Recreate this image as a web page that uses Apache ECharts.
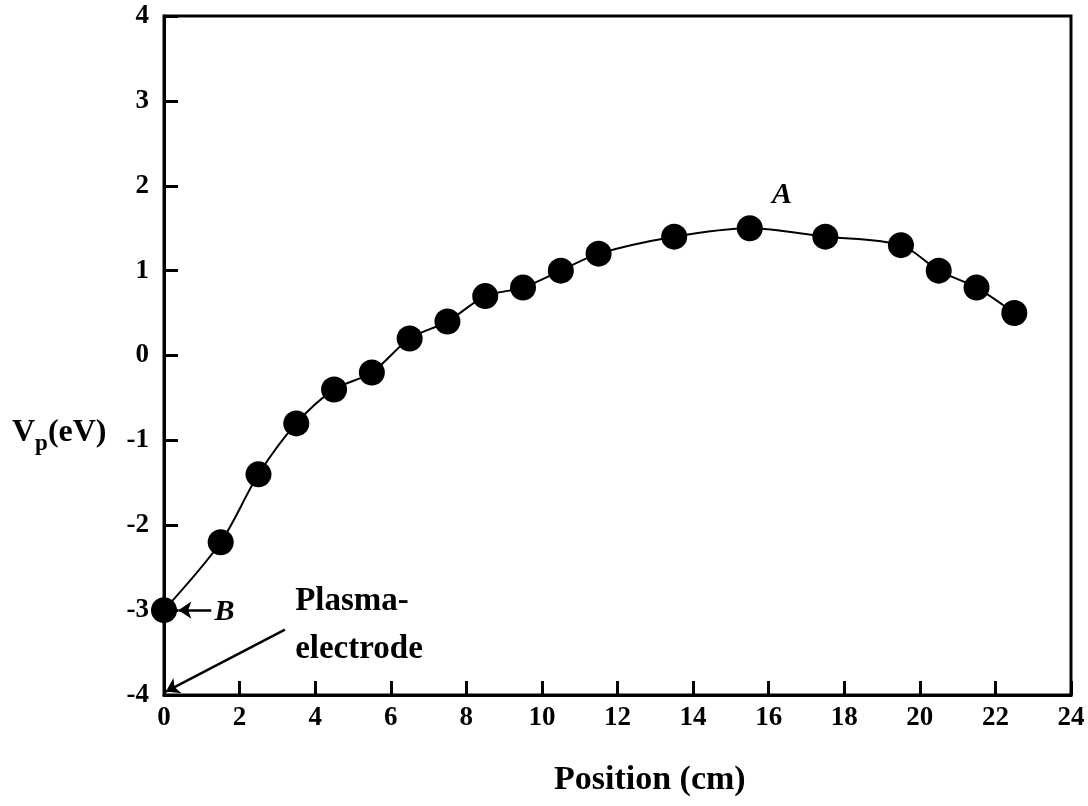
<!DOCTYPE html>
<html>
<head>
<meta charset="utf-8">
<title>Plasma potential profile</title>
<script src="https://cdn.jsdelivr.net/npm/echarts@6/dist/echarts.min.js"></script>
<style>
  html, body { margin: 0; padding: 0; background: #fff; }
  #chart { width: 1088px; height: 806px; }
</style>
</head>
<body>
<div id="chart"></div>
<script>
// Measured plasma potential along the axis
const positions = [0, 1.5, 2.5, 3.5, 4.5, 5.5, 6.5, 7.5, 8.5, 9.5, 10.5, 11.5, 13.5, 15.5, 17.5, 19.5, 20.5, 21.5, 22.5];
const potentials = [-3.0, -2.2, -1.4, -0.8, -0.4, -0.2, 0.2, 0.4, 0.7, 0.8, 1.0, 1.2, 1.4, 1.5, 1.4, 1.3, 1.0, 0.8, 0.5];

// Axis ranges
const xRange = [0, 24];
const xStep = 2;
const yRange = [-4, 4];
const yStep = 1;

// Annotation anchors (data coordinates)
const labelA = [16.35, 1.89];
const labelB = [1.6, -3.02];
const arrowB = [[1.25, -3.0], [0.38, -3.0]];
const plasmaText = [3.47, -3.18];
const arrowPlasma = [[3.2, -3.23], [0.05, -3.96]];

const serif = '"Liberation Serif", "DejaVu Serif", serif';

const chart = echarts.init(document.getElementById('chart'));

const axisText = { color: '#000', fontFamily: serif, fontWeight: 'bold', fontSize: 27 };

chart.setOption({
  animation: false,
  backgroundColor: '#fff',
  grid: {
    left: 164, right: 17, top: 16, bottom: 111,
    show: true, borderColor: '#000', borderWidth: 3, backgroundColor: 'transparent'
  },
  xAxis: {
    type: 'value', min: xRange[0], max: xRange[1], interval: xStep,
    axisLine: { show: true, onZero: false, lineStyle: { color: '#000', width: 3 } },
    axisTick: { show: true, inside: true, length: 14, lineStyle: { color: '#000', width: 3 } },
    axisLabel: Object.assign({ margin: 10 }, axisText),
    splitLine: { show: false }
  },
  yAxis: {
    type: 'value', min: yRange[0], max: yRange[1], interval: yStep,
    axisLine: { show: true, onZero: false, lineStyle: { color: '#000', width: 3 } },
    axisTick: { show: true, inside: true, length: 14, lineStyle: { color: '#000', width: 3 } },
    axisLabel: Object.assign({ margin: 15 }, axisText),
    splitLine: { show: false }
  },
  graphic: [
    {
      type: 'text', left: 12, top: 417,
      style: {
        text: '{m|V}{s|p}{m|(eV)}',
        rich: {
          m: { fontFamily: serif, fontWeight: 'bold', fontSize: 32, fill: '#000' },
          s: { fontFamily: serif, fontWeight: 'bold', fontSize: 23, fill: '#000', padding: [22, 0, 0, 0] }
        }
      }
    },
    {
      type: 'text', left: 554, top: 763,
      style: { text: 'Position (cm)', fontFamily: serif, fontWeight: 'bold', fontSize: 34, fill: '#000' }
    }
  ],
  series: [
    {
      type: 'line',
      data: positions.map((x, i) => [x, potentials[i]]),
      smooth: 0.3,
      clip: false,
      symbol: 'circle',
      symbolSize: 26,
      itemStyle: { color: '#000' },
      lineStyle: { color: '#000', width: 2 },
      z: 3,
      markLine: {
        silent: true,
        symbol: ['none', 'arrow'],
        symbolSize: 13,
        label: { show: false },
        lineStyle: { color: '#000', width: 2.5, type: 'solid' },
        data: [
          [{ coord: arrowB[0] }, { coord: arrowB[1] }],
          [{ coord: arrowPlasma[0] }, { coord: arrowPlasma[1] }]
        ]
      }
    },
    {
      type: 'scatter',
      silent: true,
      symbolSize: 1,
      itemStyle: { color: 'rgba(0,0,0,0)', opacity: 1 },
      data: [
        { value: labelA, label: { formatter: 'A' } },
        { value: labelB, label: { formatter: 'B' } },
        {
          value: plasmaText,
          label: {
            formatter: 'Plasma-\nelectrode', align: 'left', fontStyle: 'normal',
            fontSize: 33, lineHeight: 48
          }
        }
      ],
      label: {
        show: true, position: 'inside', color: '#000',
        fontFamily: serif, fontWeight: 'bold', fontStyle: 'italic', fontSize: 30
      }
    }
  ]
});
</script>
</body>
</html>
